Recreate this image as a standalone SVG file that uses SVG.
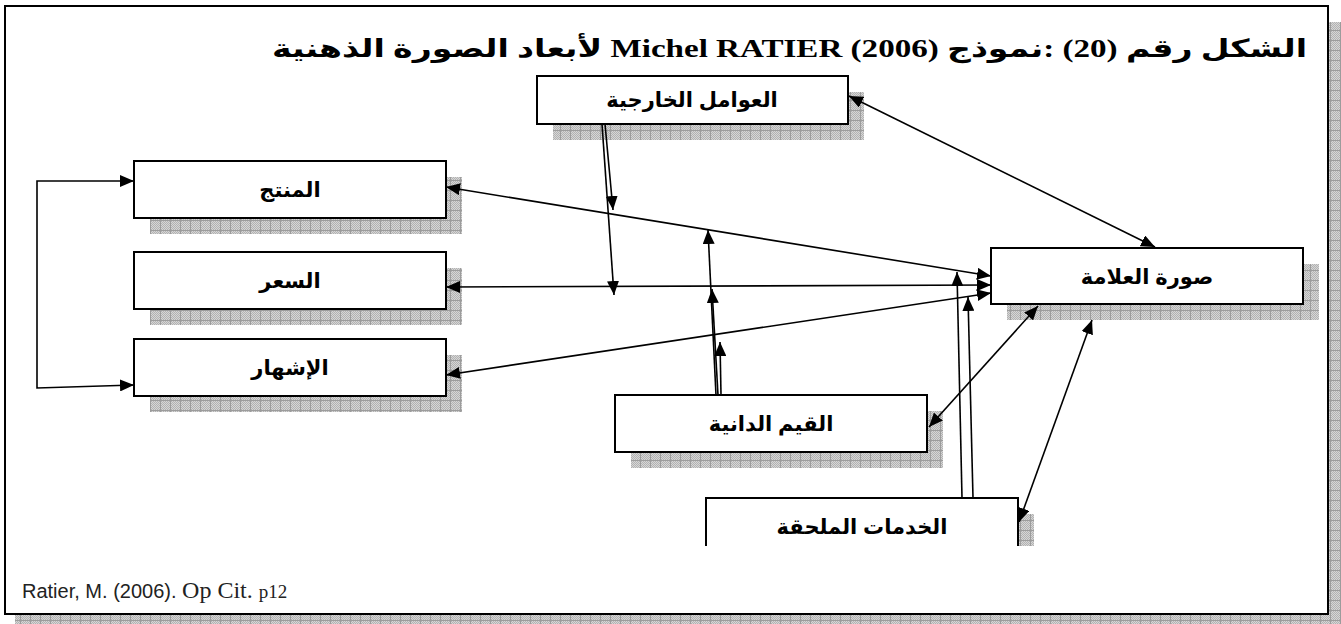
<svg xmlns="http://www.w3.org/2000/svg" width="1341" height="624" viewBox="0 0 1341 624">
  <defs>
    <!-- fine dither used inside the shadow grid -->
    <pattern id="dots" width="2" height="2" patternUnits="userSpaceOnUse">
      <rect width="2" height="2" fill="#d6d6d6"/>
      <rect width="1" height="1" fill="#b2b2b2"/>
      <rect x="1" y="1" width="1" height="1" fill="#b2b2b2"/>
    </pattern>
    <!-- gridded drop-shadow fill -->
    <pattern id="shade" width="10" height="10" patternUnits="userSpaceOnUse">
      <rect width="10" height="10" fill="url(#dots)"/>
      <path d="M0,0.5H10M0.5,0V10" stroke="#9c9c9c" stroke-width="1" fill="none"/>
    </pattern>
    <marker id="arrow" viewBox="0 0 14 12" refX="14" refY="6" markerWidth="14" markerHeight="12" markerUnits="userSpaceOnUse" orient="auto-start-reverse">
      <path d="M0,0 L14,6 L0,12 Z" fill="#000"/>
    </marker>
    <style>
      .shadow { fill: url(#shade); }
      .box { fill: #fff; stroke: #000; stroke-width: 2; }
      .label { font-family: "Liberation Sans", "DejaVu Sans", sans-serif; font-weight: bold; font-size: 21px; fill: #000; text-anchor: middle; }
      .link { fill: none; stroke: #000; stroke-width: 1.6; }
      .both { marker-start: url(#arrow); marker-end: url(#arrow); }
      .one { marker-end: url(#arrow); }
    </style>
  </defs>

  <!-- page frame with its shadow -->
  <g id="frame">
    <rect class="shadow" x="15" y="22" width="1326" height="602"/>
    <rect x="5" y="6" width="1323" height="608" fill="#fff" stroke="#000" stroke-width="2"/>
  </g>

  <text id="title" x="1307" y="57" direction="rtl" font-family="Liberation Serif, DejaVu Sans, serif" font-weight="bold" font-size="25" textLength="1035" lengthAdjust="spacingAndGlyphs" fill="#000">الشكل  رقم (20) :نموذج Michel RATIER (2006) لأبعاد الصورة الذهنية</text>

  <g id="external-factors">
    <rect class="shadow" x="553" y="92" width="311" height="48"/>
    <rect class="box" x="537" y="76" width="311" height="48"/>
    <text class="label" x="692" y="107">العوامل الخارجية</text>
  </g>

  <g id="product">
    <rect class="shadow" x="150" y="177" width="312" height="57"/>
    <rect class="box" x="134" y="161" width="312" height="57"/>
    <text class="label" x="290" y="197">المنتج</text>
  </g>

  <g id="price">
    <rect class="shadow" x="150" y="268" width="312" height="57"/>
    <rect class="box" x="134" y="252" width="312" height="57"/>
    <text class="label" x="290" y="288">السعر</text>
  </g>

  <g id="advertising">
    <rect class="shadow" x="150" y="355" width="312" height="57"/>
    <rect class="box" x="134" y="339" width="312" height="57"/>
    <text class="label" x="290" y="375">الإشهار</text>
  </g>

  <g id="brand-image">
    <rect class="shadow" x="1007" y="264" width="312" height="56"/>
    <rect class="box" x="991" y="248" width="312" height="56"/>
    <text class="label" x="1147" y="284">صورة العلامة</text>
  </g>

  <g id="values">
    <rect class="shadow" x="631" y="411" width="312" height="57"/>
    <rect class="box" x="615" y="395" width="312" height="57"/>
    <text class="label" x="771" y="431">القيم الدانية</text>
  </g>

  <!-- the services box runs off the lower edge of the figure area -->
  <g id="services">
    <rect class="shadow" x="1018" y="514" width="16" height="32"/>
    <rect x="706" y="498" width="312" height="48" fill="#fff"/>
    <path d="M706,546 V498 H1018 V546" fill="none" stroke="#000" stroke-width="2"/>
    <text class="label" x="862" y="534">الخدمات الملحقة</text>
  </g>

  <g id="connectors">
    <path class="link both" d="M134,181 H37 V388 L134,385"/>
    <path class="link both" d="M446,187 L991,276"/>
    <path class="link both" d="M446,287 L991,285"/>
    <path class="link both" d="M446,375 L991,293"/>
    <path class="link both" d="M849,96 L1155,247"/>
    <path class="link one" d="M605,124 L613,210"/>
    <path class="link one" d="M602,124 L614,295"/>
    <path class="link one" d="M716,395 L708,230"/>
    <path class="link one" d="M718,395 L712,289"/>
    <path class="link one" d="M721,395 L720,342"/>
    <path class="link one" d="M962,498 L957,272"/>
    <path class="link one" d="M973,498 L968,297"/>
    <path class="link both" d="M1038,306 L929,427"/>
    <path class="link both" d="M1092,320 L1019,522"/>
  </g>

  <text id="source" x="22" y="598" font-family="Liberation Sans, sans-serif" font-size="20" fill="#222">Ratier, M. (2006). <tspan font-family="Liberation Serif, serif" font-size="24">Op Cit. </tspan><tspan font-family="Liberation Serif, serif" font-size="19">p12</tspan></text>
</svg>
